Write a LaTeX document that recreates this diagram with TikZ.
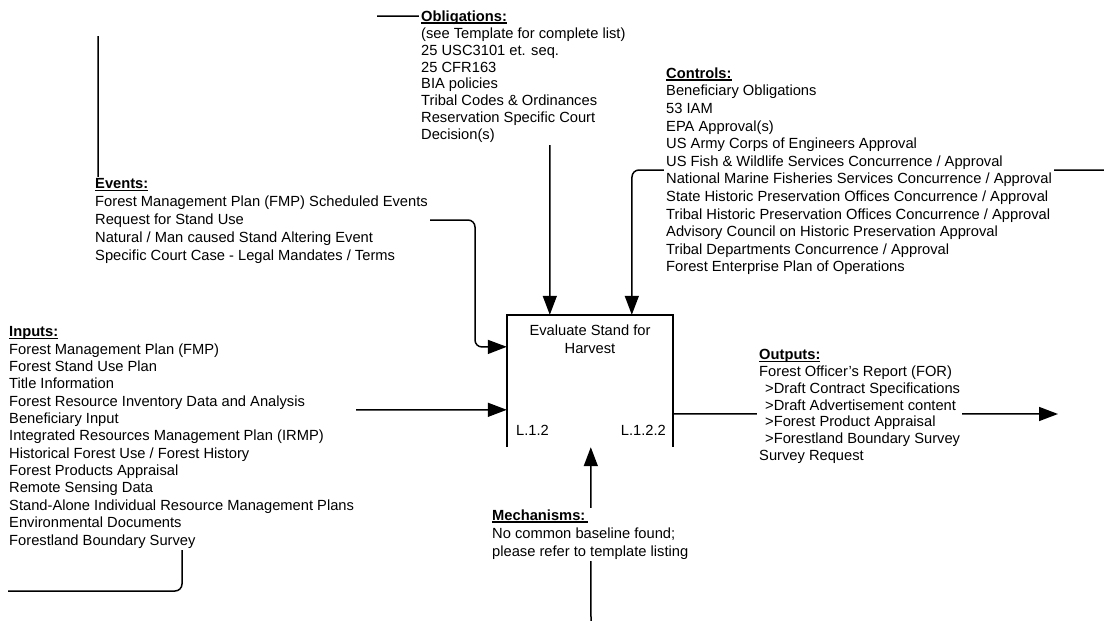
\documentclass[tikz,border=0pt]{standalone}
\usepackage{fontspec}
\setmainfont{Liberation Sans}
\usetikzlibrary{arrows.meta,backgrounds,calc}
% bold, underlined section heading
\newlength\hdrw
\newcommand\hdr[1]{\settowidth\hdrw{\bfseries #1}{\bfseries #1}\hspace{-\hdrw}\rule[-2.2pt]{\hdrw}{1.1pt}}
\begin{document}
\begin{tikzpicture}[x=1pt,y=-1pt,
  lbl/.style={anchor=north west, align=left, fill=white, inner sep=2pt,
              font=\fontsize{14.7}{17.5}\selectfont},
  plain/.style={inner sep=0pt, font=\fontsize{14.7}{18}\selectfont},
  wire/.style={line width=1.5pt, rounded corners=7pt},
  arr/.style={wire, -{Triangle[length=19pt,width=14pt]}}]
\useasboundingbox (0,0) rectangle (1104,621);

% activity box (open at the bottom)
\node[minimum width=166pt, minimum height=132pt, inner sep=0pt] (box) at (590,381) {};
\draw[line width=1.5pt] (box.south west) -- (box.north west) -- (box.north east) -- (box.south east);
\node[plain, align=center] (title) at (590,339) {Evaluate Stand for\\Harvest};
\node[plain, anchor=west] (nodeA) at (516,430) {L.1.2};
\node[plain, anchor=east] (nodeB) at (666,430) {L.1.2.2};

% text blocks
\node[lbl, font=\fontsize{14.7}{16.9}\selectfont] (obl) at (419,8.5) {\hdr{Obligations:}\\
(see Template for complete list)\\
25 USC3101 et. seq.\\
25 CFR163\\
BIA policies\\
Tribal Codes \& Ordinances\\
Reservation Specific Court\\
Decision(s)};

\node[lbl, font=\fontsize{14.7}{17.6}\selectfont] (ctl) at (664,65.5) {\hdr{Controls:}\\
Beneficiary Obligations\\
53 IAM\\
EPA Approval(s)\\
US Army Corps of Engineers Approval\\
US Fish \& Wildlife Services Concurrence / Approval\\
National Marine Fisheries Services Concurrence / Approval\\
State Historic Preservation Offices Concurrence / Approval\\
Tribal Historic Preservation Offices Concurrence / Approval\\
Advisory Council on Historic Preservation Approval\\
Tribal Departments Concurrence / Approval\\
Forest Enterprise Plan of Operations};

\node[lbl, font=\fontsize{14.7}{18}\selectfont] (ev) at (93,176.5) {\hdr{Events:}\\
Forest Management Plan (FMP) Scheduled Events\\
Request for Stand Use\\
Natural / Man caused Stand Altering Event\\
Specific Court Case - Legal Mandates / Terms};

\node[lbl, font=\fontsize{14.7}{17.35}\selectfont] (inp) at (7,324.5) {\hdr{Inputs:}\\
Forest Management Plan (FMP)\\
Forest Stand Use Plan\\
Title Information\\
Forest Resource Inventory Data and Analysis\\
Beneficiary Input\\
Integrated Resources Management Plan (IRMP)\\
Historical Forest Use / Forest History\\
Forest Products Appraisal\\
Remote Sensing Data\\
Stand-Alone Individual Resource Management Plans\\
Environmental Documents\\
Forestland Boundary Survey};

\node[lbl, font=\fontsize{14.7}{16.7}\selectfont] (outp) at (757,347.5) {\hdr{Outputs:}\\
Forest Officer's Report (FOR)\\
\hspace*{6pt}>Draft Contract Specifications\\
\hspace*{6pt}>Draft Advertisement content\\
\hspace*{6pt}>Forest Product Appraisal\\
\hspace*{6pt}>Forestland Boundary Survey\\
Survey Request};

\node[lbl, font=\fontsize{14.7}{18}\selectfont] (mech) at (490,507.5) {\hdr{Mechanisms:\,}\\
No common baseline found;\\
please refer to template listing};

% free ends of the connectors
\coordinate (evsrc) at (98,36);
\coordinate (oblsrc) at (377,16);
\coordinate (ctlsrc) at (1104,170);
\coordinate (insrc) at (8,591);
\coordinate (mechsrc) at (591,621);
\coordinate (outend) at (1058,414);

% white page, then the connectors running behind the text blocks
\begin{scope}[on background layer]
\fill[white] (0,0) rectangle (1104,621);
\draw[arr] (evsrc) -- (98,220) -- (475,220) -- (475,347) -- ($(box.north west)+(0,32)$);
\draw[arr] (oblsrc) -- (550,16) -- ($(box.north west)+(43,0)$);
\draw[arr] (ctlsrc) -- (632,170) -- ($(box.north west)+(125,0)$);
\draw[arr] (insrc) -- (182,591) -- (182,410) -- ($(box.north west)+(0,95)$);
\draw[arr] (mechsrc) -- ($(box.south west)+(84,0)$);
\draw[arr] ($(box.north east)+(0,99)$) -- (outend);
\end{scope}
\end{tikzpicture}
\end{document}
